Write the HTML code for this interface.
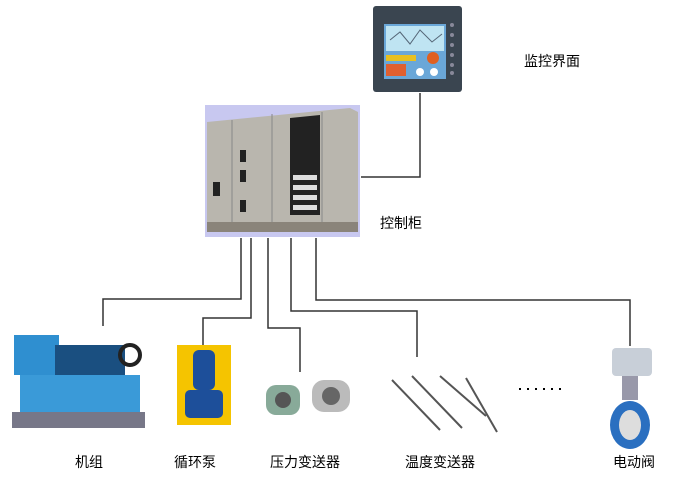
<!DOCTYPE html>
<html><head><meta charset="utf-8"><style>
body{margin:0;width:675px;height:478px;background:#fff;position:relative;overflow:hidden;font-family:"Liberation Sans","Noto Sans CJK SC",sans-serif;}
.t{position:absolute;font-size:14px;color:#000;white-space:nowrap}
</style></head><body>
<svg width="675" height="478" style="position:absolute;left:0;top:0">
<rect x="373" y="6" width="89" height="86" rx="3" fill="#3a4550"/>
<rect x="384" y="24" width="62" height="55" fill="#6aa7d8"/>
<rect x="386" y="26" width="58" height="25" fill="#bfe4f2"/>
<polyline points="390,40 400,32 410,44 420,30 432,42 442,34" fill="none" stroke="#567" stroke-width="1"/>
<rect x="386" y="55" width="30" height="6" fill="#e8c020"/>
<rect x="386" y="64" width="20" height="12" fill="#e06030"/>
<circle cx="433" cy="58" r="6" fill="#e06020"/>
<circle cx="420" cy="72" r="4" fill="#fff"/><circle cx="434" cy="72" r="4" fill="#fff"/>
<g fill="#889"><circle cx="452" cy="25" r="2"/><circle cx="452" cy="35" r="2"/><circle cx="452" cy="45" r="2"/><circle cx="452" cy="55" r="2"/><circle cx="452" cy="65" r="2"/><circle cx="452" cy="73" r="2"/></g>
<rect x="205" y="105" width="155" height="132" fill="#c8c8f0"/>
<polygon points="207,122 350,108 358,112 358,232 207,228" fill="#b9b6ae"/>
<polygon points="290,118 320,115 320,215 290,215" fill="#222"/>
<g fill="#ddd"><rect x="293" y="175" width="24" height="5"/><rect x="293" y="185" width="24" height="5"/><rect x="293" y="195" width="24" height="5"/><rect x="293" y="205" width="24" height="5"/></g>
<g fill="#222"><rect x="240" y="150" width="6" height="12"/><rect x="240" y="170" width="6" height="12"/><rect x="240" y="200" width="6" height="12"/><rect x="213" y="182" width="7" height="14"/></g>
<g stroke="#888" stroke-width="1"><line x1="232" y1="120" x2="232" y2="228"/><line x1="272" y1="114" x2="272" y2="230"/><line x1="322" y1="112" x2="322" y2="232"/></g>
<rect x="207" y="222" width="151" height="10" fill="#8a847a"/>
<g fill="none" stroke="#333" stroke-width="1.5">
<polyline points="420,93 420,177 361,177"/>
<polyline points="241,238 241,299 103,299 103,326"/>
<polyline points="251,238 251,318 203,318 203,345"/>
<polyline points="268,238 268,328 300,328 300,372"/>
<polyline points="291,238 291,311 417,311 417,357"/>
<polyline points="316,238 316,300 630,300 630,346"/>
</g>
<rect x="14" y="335" width="45" height="40" fill="#2f8fd0"/>
<rect x="20" y="375" width="120" height="40" fill="#3a9ad8"/>
<rect x="55" y="345" width="70" height="30" fill="#1a4f80"/>
<circle cx="130" cy="355" r="10" fill="none" stroke="#222" stroke-width="4"/>
<rect x="12" y="412" width="133" height="16" fill="#778"/>
<rect x="177" y="345" width="54" height="80" fill="#f5c400"/>
<rect x="193" y="350" width="22" height="40" rx="6" fill="#1d4f9a"/>
<rect x="185" y="390" width="38" height="28" rx="5" fill="#1d4f9a"/>
<rect x="266" y="385" width="34" height="30" rx="10" fill="#8a9"/>
<circle cx="283" cy="400" r="8" fill="#555"/>
<rect x="312" y="380" width="38" height="32" rx="12" fill="#bbb"/>
<circle cx="331" cy="396" r="9" fill="#666"/>
<g stroke="#555" stroke-width="2"><line x1="392" y1="380" x2="440" y2="430"/><line x1="412" y1="376" x2="462" y2="428"/><line x1="440" y1="376" x2="486" y2="416"/><line x1="466" y1="378" x2="497" y2="432"/></g>
<g fill="#000"><rect x="519" y="388" width="2" height="2"/><rect x="527" y="388" width="2" height="2"/><rect x="535" y="388" width="2" height="2"/><rect x="543" y="388" width="2" height="2"/><rect x="551" y="388" width="2" height="2"/><rect x="559" y="388" width="2" height="2"/></g>
<rect x="612" y="348" width="40" height="28" rx="4" fill="#c8cfd8"/>
<rect x="622" y="376" width="16" height="24" fill="#99a"/>
<ellipse cx="630" cy="425" rx="20" ry="24" fill="#2a6fc0"/>
<ellipse cx="630" cy="425" rx="11" ry="15" fill="#ddd"/>
</svg>
<div class="t" style="left:524px;top:51px">监控界面</div>
<div class="t" style="left:380px;top:213px">控制柜</div>
<div class="t" style="left:75px;top:452px">机组</div>
<div class="t" style="left:174px;top:452px">循环泵</div>
<div class="t" style="left:270px;top:452px">压力变送器</div>
<div class="t" style="left:405px;top:452px">温度变送器</div>
<div class="t" style="left:613px;top:452px">电动阀</div>
</body></html>
